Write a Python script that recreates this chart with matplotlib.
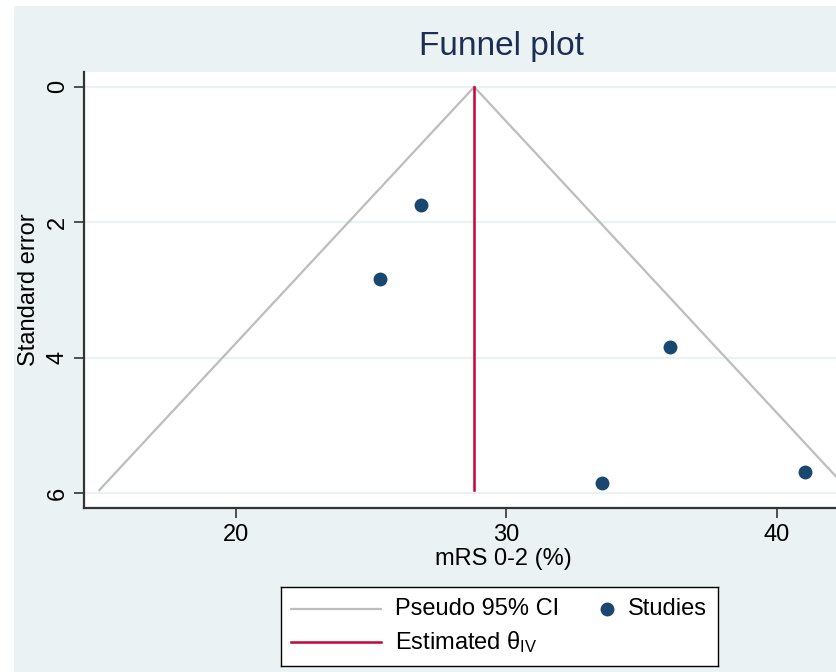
import matplotlib
matplotlib.use("Agg")
import matplotlib.pyplot as plt
from matplotlib.patches import Rectangle

plt.rcParams['font.family'] = ['Liberation Sans', 'DejaVu Sans']
plt.rcParams['mathtext.fontset'] = 'custom'
plt.rcParams['mathtext.rm'] = 'Liberation Sans'
plt.rcParams['mathtext.it'] = 'Liberation Sans:italic'

# study estimates
study_effect = [26.86, 25.32, 36.04, 33.54, 41.06]
study_se = [1.75, 2.83, 3.84, 5.84, 5.69]

# pooled estimate and pseudo 95% CI funnel (apex -> bottom)
theta_iv = 28.81
funnel_se = [0.0, 5.95]
funnel_lower = [28.81, 14.95]
funnel_upper = [28.81, 42.65]

x_ticks = [20, 30, 40]
y_ticks = [0, 2, 4, 6]

ci_color = '#BDBDBD'
theta_color = '#C10534'
dot_color = '#1A476F'
bg = '#EAF2F3'

W, H = 836, 672
fig = plt.figure(figsize=(W / 100, H / 100), dpi=100)
fig.patch.set_facecolor('white')
fig.patches.append(Rectangle((14 / W, 0), 1, 1 - 6 / H, transform=fig.transFigure,
                             facecolor=bg, edgecolor='none', zorder=-10))

left, right, top, bottom = 84, 885, 72, 508.3
ax = fig.add_axes([left / W, 1 - bottom / H, (right - left) / W, (bottom - top) / H])
ax.set_zorder(2)
ax.set_facecolor('white')

ax.plot(funnel_lower, funnel_se, color=ci_color, lw=1.6, zorder=2)
ax.plot(funnel_upper, funnel_se, color=ci_color, lw=1.6, zorder=2)
ax.plot([theta_iv, theta_iv], funnel_se, color=theta_color, lw=1.8, zorder=3)
ax.scatter(study_effect, study_se, s=100, color=dot_color, zorder=4, linewidths=0)

ax.set_xlim(14.38, 44)
ax.set_ylim(6.22, -0.22)
ax.set_xticks(x_ticks)
ax.set_yticks(y_ticks)
ax.grid(axis='y', color=bg, lw=1.6)
ax.set_axisbelow(True)
for s in ['top', 'right']:
    ax.spines[s].set_visible(False)
for s in ['left', 'bottom']:
    ax.spines[s].set_color('#333333')
    ax.spines[s].set_linewidth(1.6)
ax.tick_params(axis='both', length=7, width=1.2, color='#333333', labelsize=17, pad=4)
for lab in ax.get_yticklabels():
    lab.set_rotation(90)
    lab.set_va('center')

ax.set_xlabel('mRS 0-2 (%)', fontsize=17)
# the graph is wider than the saved picture, so centre the label on the visible graph
ax.xaxis.set_label_coords((503 - left) / (right - left), (bottom - 548) / (bottom - top))
ax.set_ylabel('Standard error', fontsize=17, labelpad=5)

fig.text(501 / W, 1 - 46 / H, 'Funnel plot', ha='center', va='center',
         fontsize=24, color='#1E2D53')

# legend box drawn by hand, in pixel coordinates
lx0, lx1, ly0, ly1 = 281, 718, 587, 666
lax = fig.add_axes([lx0 / W, 1 - ly1 / H, (lx1 - lx0) / W, (ly1 - ly0) / H])
lax.set_zorder(3)
lax.set_xlim(lx0, lx1)
lax.set_ylim(ly1, ly0)
lax.set_xticks([])
lax.set_yticks([])
for s in lax.spines.values():
    s.set_color('black')
    s.set_linewidth(1.0)
lax.plot([291, 381], [609, 609], color=ci_color, lw=1.6)
lax.plot([291, 381], [642, 642], color=theta_color, lw=1.8)
lax.scatter([606.5], [609], s=100, color=dot_color, linewidths=0)
lax.text(395, 609, 'Pseudo 95% CI', fontsize=17, va='center', ha='left')
lax.text(628, 609, 'Studies', fontsize=17, va='center', ha='left')
lax.text(395, 642, r'Estimated θ$_{\mathrm{IV}}$', fontsize=17, va='center', ha='left')

fig.savefig('out.png', dpi=100, facecolor=fig.get_facecolor())
